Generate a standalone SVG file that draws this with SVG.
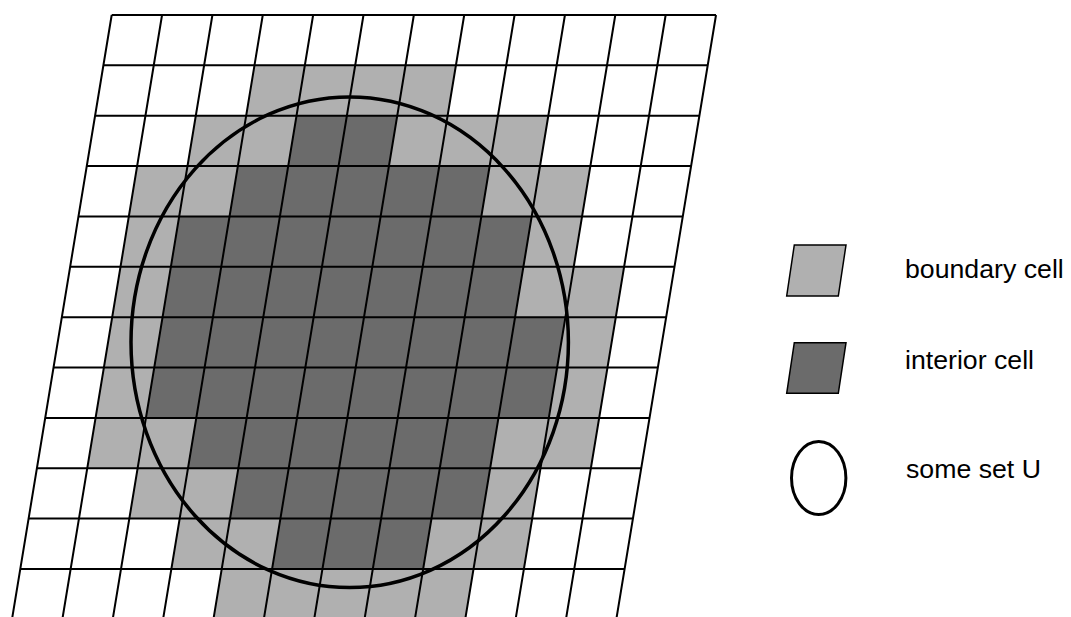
<svg xmlns="http://www.w3.org/2000/svg" width="1071" height="617" viewBox="0 0 1071 617">
<style>
.lt{fill:#b0b0b0}
.dk{fill:#6b6b6b}
.grid{stroke:#000;stroke-width:2;fill:none}
.set{stroke:#000;stroke-width:3.5;fill:none}
.key{stroke:#000;stroke-width:1.5}
.lbl{font-family:"Liberation Sans",Arial,sans-serif;font-size:26.7px;fill:#000}
</style>
<rect width="1071" height="617" fill="#fff"/>
<g id="cells" transform="matrix(50.36 0 -8.31 50.36 111.7 15)">
<rect class="lt" x="3" y="1" width="4" height="1"/>
<rect class="lt" x="2" y="2" width="2" height="1"/>
<rect class="dk" x="4" y="2" width="2" height="1"/>
<rect class="lt" x="6" y="2" width="3" height="1"/>
<rect class="lt" x="1" y="3" width="2" height="1"/>
<rect class="dk" x="3" y="3" width="5" height="1"/>
<rect class="lt" x="8" y="3" width="2" height="1"/>
<rect class="lt" x="1" y="4" width="1" height="1"/>
<rect class="dk" x="2" y="4" width="7" height="1"/>
<rect class="lt" x="9" y="4" width="1" height="1"/>
<rect class="lt" x="1" y="5" width="1" height="1"/>
<rect class="dk" x="2" y="5" width="7" height="1"/>
<rect class="lt" x="9" y="5" width="2" height="1"/>
<rect class="lt" x="1" y="6" width="1" height="1"/>
<rect class="dk" x="2" y="6" width="8" height="1"/>
<rect class="lt" x="10" y="6" width="1" height="1"/>
<rect class="lt" x="1" y="7" width="1" height="1"/>
<rect class="dk" x="2" y="7" width="8" height="1"/>
<rect class="lt" x="10" y="7" width="1" height="1"/>
<rect class="lt" x="1" y="8" width="2" height="1"/>
<rect class="dk" x="3" y="8" width="6" height="1"/>
<rect class="lt" x="9" y="8" width="2" height="1"/>
<rect class="lt" x="2" y="9" width="2" height="1"/>
<rect class="dk" x="4" y="9" width="5" height="1"/>
<rect class="lt" x="9" y="9" width="1" height="1"/>
<rect class="lt" x="3" y="10" width="2" height="1"/>
<rect class="dk" x="5" y="10" width="3" height="1"/>
<rect class="lt" x="8" y="10" width="2" height="1"/>
<rect class="lt" x="4" y="11" width="5" height="1"/>
</g>
<g id="grid" class="grid">
<path d="M111.7 15H716M103.39 65.36H707.69M95.08 115.72H699.38M86.77 166.08H691.07M78.46 216.44H682.76M70.15 266.8H674.45M61.84 317.16H666.14M53.53 367.52H657.83M45.22 417.88H649.52M36.91 468.24H641.21M28.6 518.6H632.9M20.29 568.96H624.59"/>
<path d="M111.7 15L11.98 619.32M162.06 15L62.34 619.32M212.42 15L112.7 619.32M262.78 15L163.06 619.32M313.14 15L213.42 619.32M363.5 15L263.78 619.32M413.86 15L314.14 619.32M464.22 15L364.5 619.32M514.58 15L414.86 619.32M564.94 15L465.22 619.32M615.3 15L515.58 619.32M665.66 15L565.94 619.32M716.02 15L616.3 619.32"/>
</g>
<g id="setU">
<ellipse class="set" cx="349.7" cy="342.3" rx="218.7" ry="245.3"/>
</g>
<g id="legend-boundary">
<polygon class="lt key" points="794.3,245 846,245 838.3,296 786.7,296"/>
<text class="lbl" x="905" y="278.3">boundary cell</text>
</g>
<g id="legend-interior">
<polygon class="dk key" points="794.3,342.7 846,342.7 838.3,393.3 786.7,393.3"/>
<text class="lbl" x="905" y="369.3">interior cell</text>
</g>
<g id="legend-set">
<ellipse class="set" cx="818.7" cy="478" rx="27.2" ry="36.5" style="stroke-width:3"/>
<text class="lbl" x="906" y="478.3">some set U</text>
</g>
</svg>
